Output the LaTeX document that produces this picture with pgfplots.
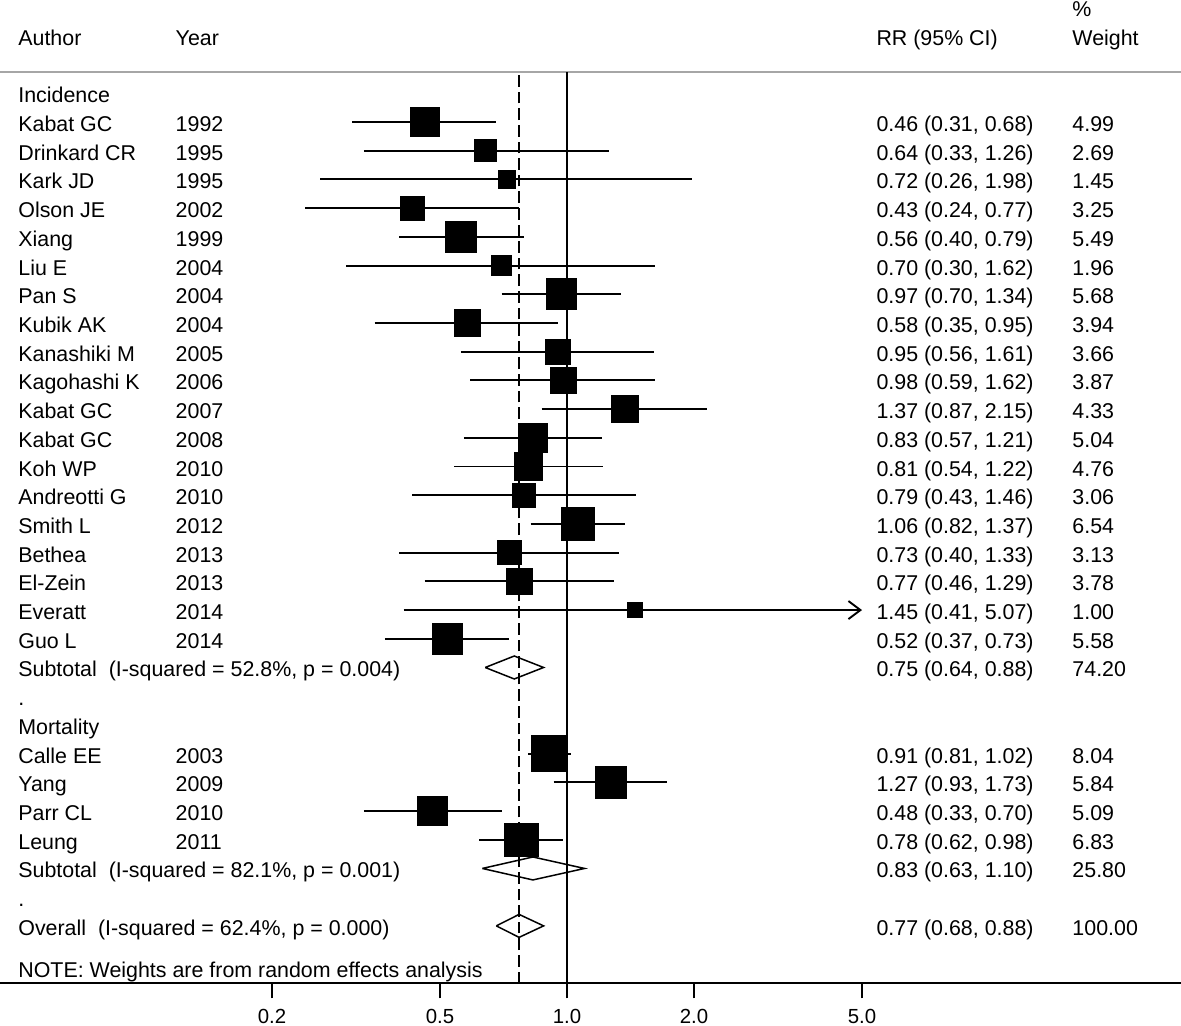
\documentclass[border=0pt]{standalone}
\usepackage{pgfplots}
\pgfplotsset{compat=1.18}
\usepackage{pgfplotstable}
\usepackage{fontspec}
\setmainfont{Liberation Sans}
\usetikzlibrary{arrows.meta}

% y = 31 - row index
\pgfplotstableread{
y rr lo hi w
30 0.46 0.31 0.68 4.99
29 0.64 0.33 1.26 2.69
28 0.72 0.26 1.98 1.45
27 0.43 0.24 0.77 3.25
26 0.56 0.40 0.79 5.49
25 0.70 0.30 1.62 1.96
24 0.97 0.70 1.34 5.68
23 0.58 0.35 0.95 3.94
22 0.95 0.56 1.61 3.66
21 0.98 0.59 1.62 3.87
20 1.37 0.87 2.15 4.33
19 0.83 0.57 1.21 5.04
18 0.81 0.54 1.22 4.76
17 0.79 0.43 1.46 3.06
16 1.06 0.82 1.37 6.54
15 0.73 0.40 1.33 3.13
14 0.77 0.46 1.29 3.78
13 1.45 0.41 5.07 1.00
12 0.52 0.37 0.73 5.58
8 0.91 0.81 1.02 8.04
7 1.27 0.93 1.73 5.84
6 0.48 0.33 0.70 5.09
5 0.78 0.62 0.98 6.83
}\studies

\newcommand{\fs}{\fontsize{10.7}{12.8}\selectfont}
\tikzset{txt/.style={anchor=base west, inner sep=0pt, yshift=-4.75pt, font=\fs},
  ci/.style={black, line width=0.95pt}}
\newcommand{\rowtext}[5]{%
  \node[txt] at (axis cs:0.05,#1) {#2};
  \node[txt] at (axis cs:0.118,#1) {#3};
  \node[txt] at (axis cs:5.40,#1) {#4};
  \node[txt] at (axis cs:15.73,#1) {#5};
}

\begin{document}
\begin{tikzpicture}
\begin{axis}[
  scale only axis,
  width=590.5pt, height=491.65pt,
  xmode=log,
  xmin=0.04533, xmax=28.5,
  ymin=0, ymax=34.25,
  clip=false,
  axis x line*=bottom,
  axis y line=none,
  axis line style={line width=1pt},
  xtick={0.2,0.5,1,2,5},
  xticklabels={0.2,0.5,1.0,2.0,5.0},
  xminorticks=false,
  tick align=outside,
  major tick length=7.5pt,
  tick style={black, line width=1pt},
  /pgf/number format/assume math mode=true,
  xticklabel style={font=\fontsize{10.2}{11}\selectfont, yshift=-1.8pt},
]
\coordinate (bl) at (rel axis cs:0,0);
\coordinate (tr) at (rel axis cs:1,1);

% header rule
\addplot[black!35, line width=1.1pt] coordinates {(0.04533,31.742) (28.5,31.742)};
% reference lines
\addplot[black, line width=0.95pt] coordinates {(1,0) (1,31.742)};
\addplot[black, line width=0.95pt, dash pattern=on 5.8pt off 2.5pt] coordinates {(0.77,0) (0.77,31.742)};

% confidence intervals
\addplot[ci] coordinates {(0.31,30) (0.68,30)};
\addplot[ci] coordinates {(0.33,29) (1.26,29)};
\addplot[ci] coordinates {(0.26,28) (1.98,28)};
\addplot[ci] coordinates {(0.24,27) (0.77,27)};
\addplot[ci] coordinates {(0.40,26) (0.79,26)};
\addplot[ci] coordinates {(0.30,25) (1.62,25)};
\addplot[ci] coordinates {(0.70,24) (1.34,24)};
\addplot[ci] coordinates {(0.35,23) (0.95,23)};
\addplot[ci] coordinates {(0.56,22) (1.61,22)};
\addplot[ci] coordinates {(0.59,21) (1.62,21)};
\addplot[ci] coordinates {(0.87,20) (2.15,20)};
\addplot[ci] coordinates {(0.57,19) (1.21,19)};
\addplot[ci] coordinates {(0.54,18) (1.22,18)};
\addplot[ci] coordinates {(0.43,17) (1.46,17)};
\addplot[ci] coordinates {(0.82,16) (1.37,16)};
\addplot[ci] coordinates {(0.40,15) (1.33,15)};
\addplot[ci] coordinates {(0.46,14) (1.29,14)};
\addplot[ci, -{Straight Barb[length=6pt,width=9pt]}] coordinates {(0.41,13) (5.0,13)};
\addplot[ci] coordinates {(0.37,12) (0.73,12)};
\addplot[ci] coordinates {(0.81,8) (1.02,8)};
\addplot[ci] coordinates {(0.93,7) (1.73,7)};
\addplot[ci] coordinates {(0.33,6) (0.70,6)};
\addplot[ci] coordinates {(0.62,5) (0.98,5)};

% weighted squares
\addplot[only marks, mark=square*,
  visualization depends on={2.85*sqrt(\thisrow{w})+0.9 \as \msz},
  scatter, scatter/use mapped color={draw=black, fill=black},
  scatter/@pre marker code/.append style={/tikz/mark size=\msz, /tikz/line width=0.6pt, /tikz/line join=round}]
  table[x=rr, y=y] {\studies};

% pooled diamonds
\addplot[black, line width=0.75pt] coordinates {(0.64,11) (0.75,11.4) (0.88,11) (0.75,10.6) (0.64,11)};
\addplot[black, line width=0.75pt] coordinates {(0.63,4) (0.83,4.4) (1.10,4) (0.83,3.6) (0.63,4)};
\addplot[black, line width=0.75pt] coordinates {(0.68,2) (0.77,2.4) (0.88,2) (0.77,1.6) (0.68,2)};

% text
\node[txt] at (axis cs:15.73,34) {\%};
\rowtext{33}{Author}{Year}{RR (95\% CI)}{Weight}
\node[txt] at (axis cs:0.05,31) {Incidence};
\rowtext{30}{Kabat GC}{1992}{0.46 (0.31, 0.68)}{4.99}
\rowtext{29}{Drinkard CR}{1995}{0.64 (0.33, 1.26)}{2.69}
\rowtext{28}{Kark JD}{1995}{0.72 (0.26, 1.98)}{1.45}
\rowtext{27}{Olson JE}{2002}{0.43 (0.24, 0.77)}{3.25}
\rowtext{26}{Xiang}{1999}{0.56 (0.40, 0.79)}{5.49}
\rowtext{25}{Liu E}{2004}{0.70 (0.30, 1.62)}{1.96}
\rowtext{24}{Pan S}{2004}{0.97 (0.70, 1.34)}{5.68}
\rowtext{23}{Kubik AK}{2004}{0.58 (0.35, 0.95)}{3.94}
\rowtext{22}{Kanashiki M}{2005}{0.95 (0.56, 1.61)}{3.66}
\rowtext{21}{Kagohashi K}{2006}{0.98 (0.59, 1.62)}{3.87}
\rowtext{20}{Kabat GC}{2007}{1.37 (0.87, 2.15)}{4.33}
\rowtext{19}{Kabat GC}{2008}{0.83 (0.57, 1.21)}{5.04}
\rowtext{18}{Koh WP}{2010}{0.81 (0.54, 1.22)}{4.76}
\rowtext{17}{Andreotti G}{2010}{0.79 (0.43, 1.46)}{3.06}
\rowtext{16}{Smith L}{2012}{1.06 (0.82, 1.37)}{6.54}
\rowtext{15}{Bethea}{2013}{0.73 (0.40, 1.33)}{3.13}
\rowtext{14}{El-Zein}{2013}{0.77 (0.46, 1.29)}{3.78}
\rowtext{13}{Everatt}{2014}{1.45 (0.41, 5.07)}{1.00}
\rowtext{12}{Guo L}{2014}{0.52 (0.37, 0.73)}{5.58}
\rowtext{11}{Subtotal\ \ (I-squared = 52.8\%, p = 0.004)}{}{0.75 (0.64, 0.88)}{74.20}
\node[txt] at (axis cs:0.05,10) {.};
\node[txt] at (axis cs:0.05,9) {Mortality};
\rowtext{8}{Calle EE}{2003}{0.91 (0.81, 1.02)}{8.04}
\rowtext{7}{Yang}{2009}{1.27 (0.93, 1.73)}{5.84}
\rowtext{6}{Parr CL}{2010}{0.48 (0.33, 0.70)}{5.09}
\rowtext{5}{Leung}{2011}{0.78 (0.62, 0.98)}{6.83}
\rowtext{4}{Subtotal\ \ (I-squared = 82.1\%, p = 0.001)}{}{0.83 (0.63, 1.10)}{25.80}
\node[txt] at (axis cs:0.05,3) {.};
\rowtext{2}{Overall\ \ (I-squared = 62.4\%, p = 0.000)}{}{0.77 (0.68, 0.88)}{100.00}
\node[txt] at (axis cs:0.05,0.55) {NOTE: Weights are from random effects analysis};
\end{axis}
\pgfresetboundingbox
\path ([yshift=-21.35pt]bl) rectangle (tr);
\end{tikzpicture}
\end{document}
